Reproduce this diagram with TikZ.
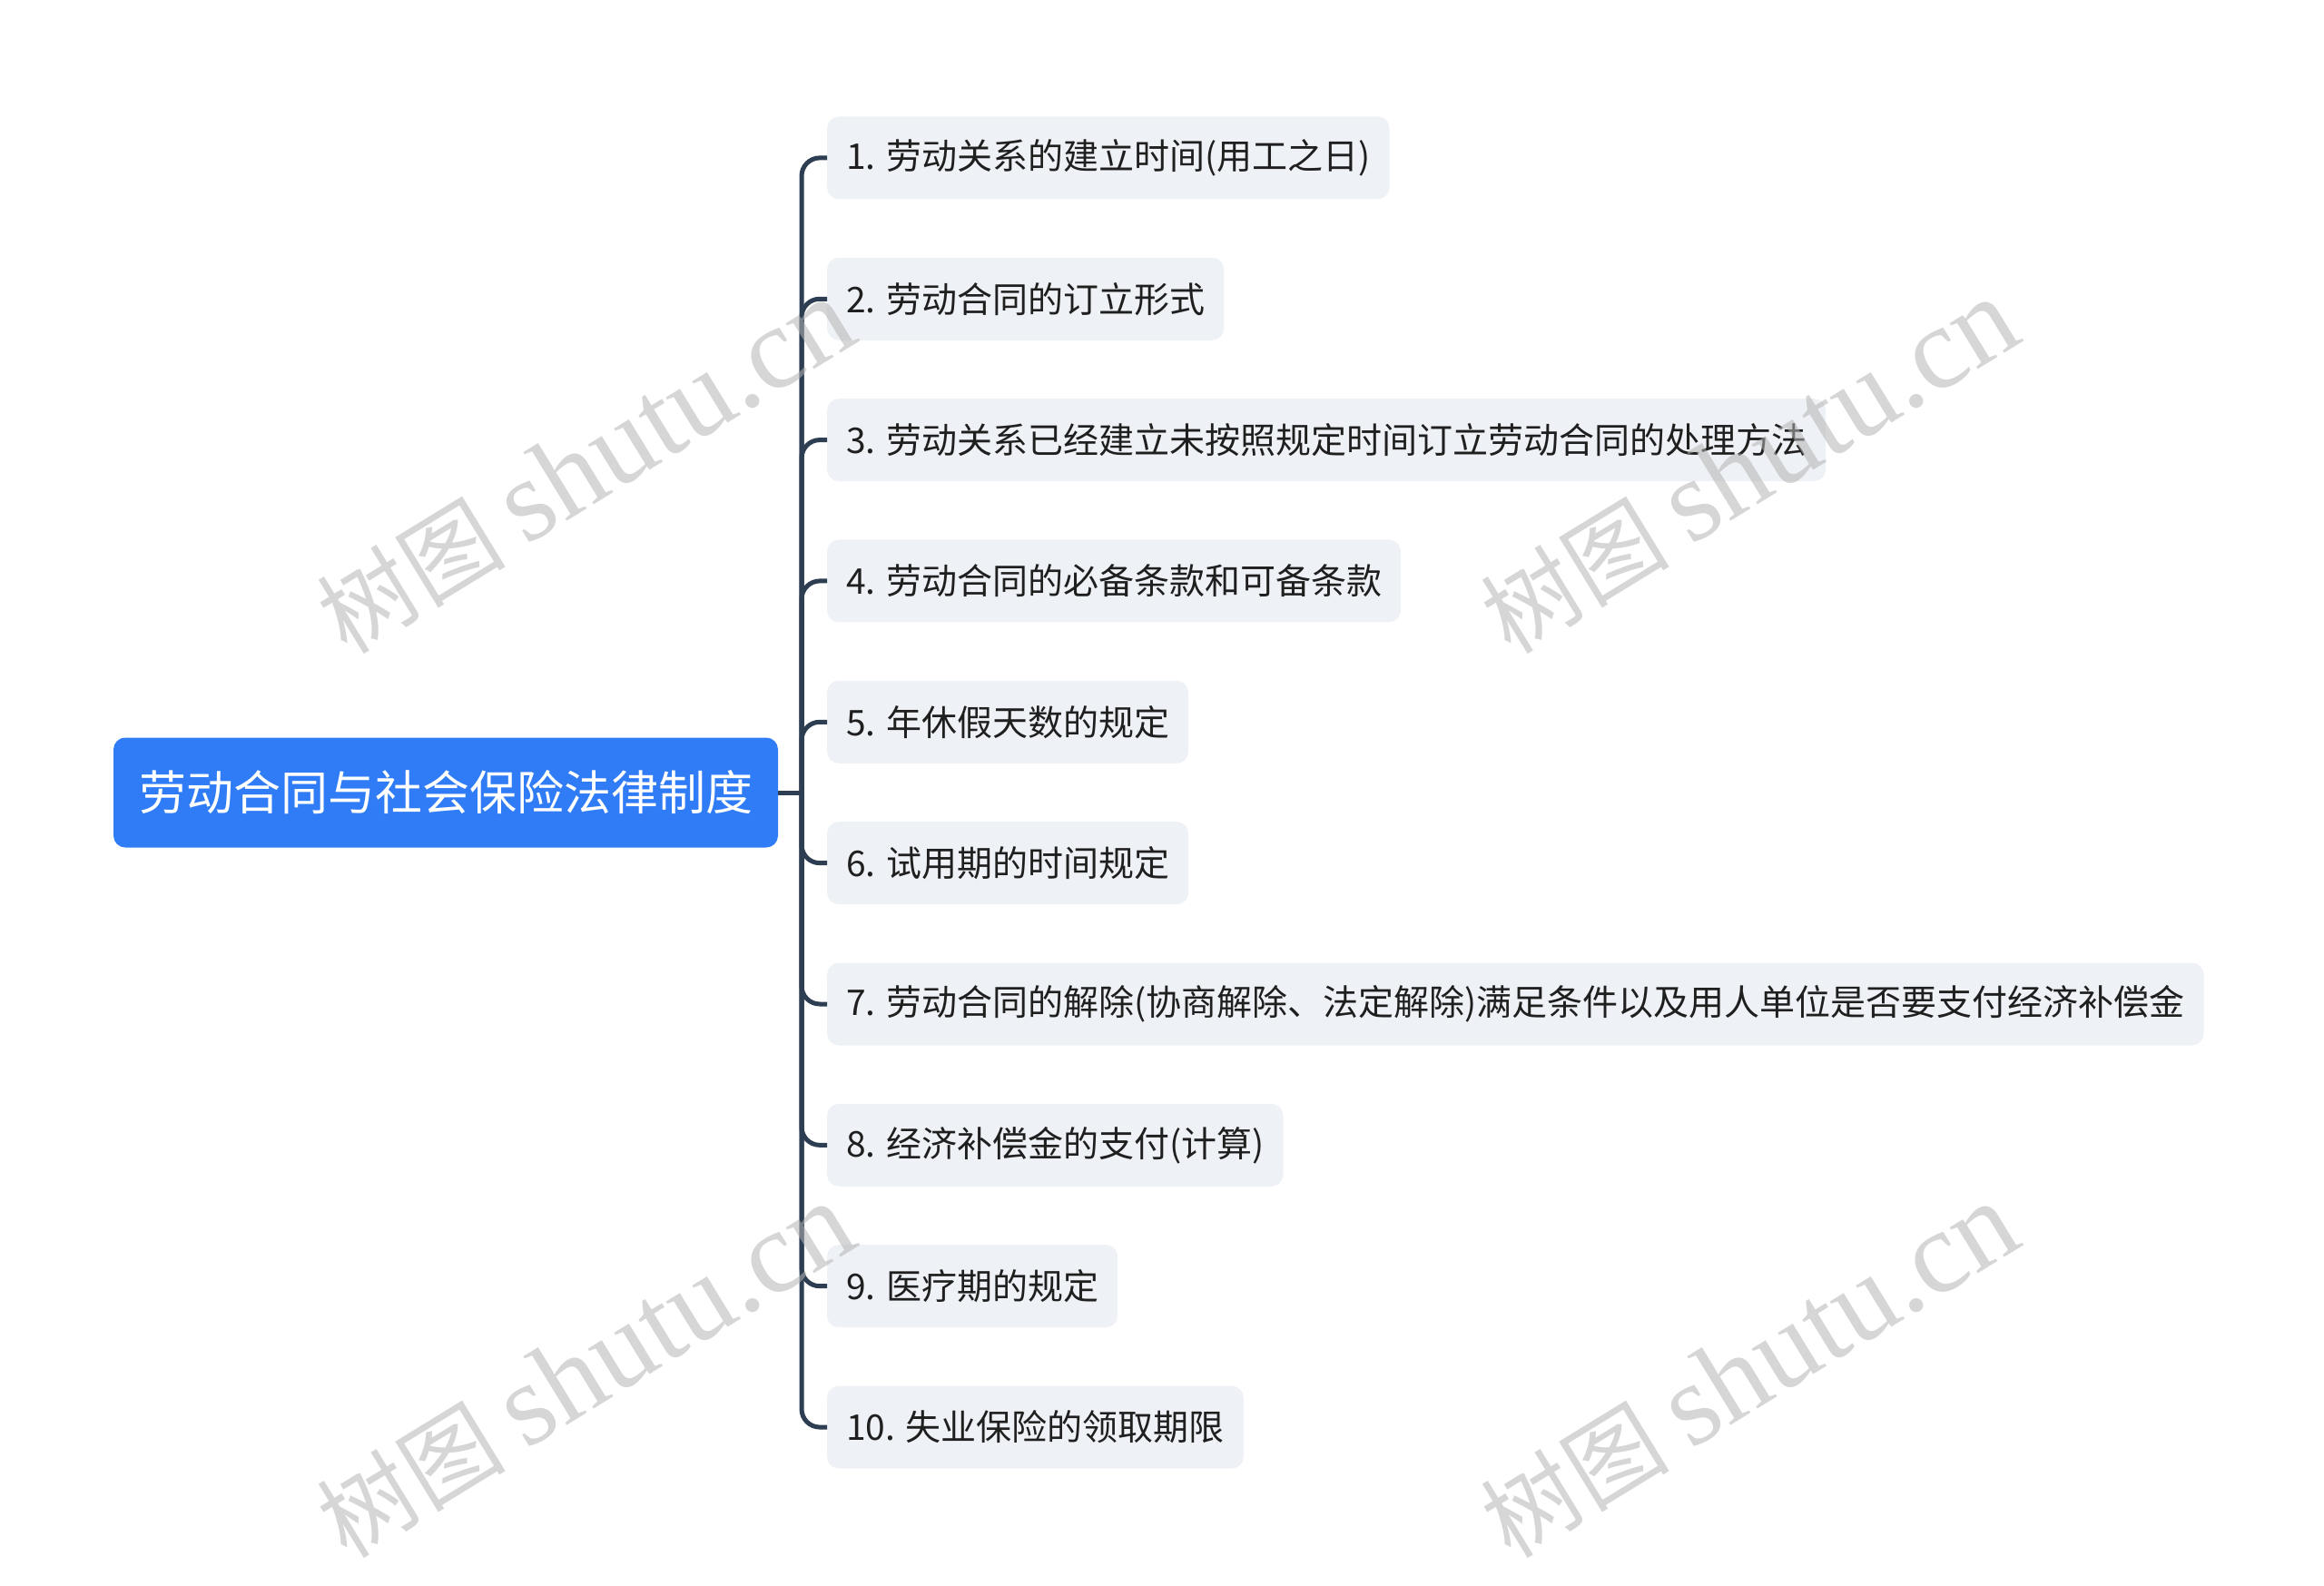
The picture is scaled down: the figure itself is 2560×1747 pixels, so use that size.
\documentclass[tikz,border=0pt]{standalone}
\usepackage{fontspec}
\setmainfont{Noto Sans CJK SC}
\newfontfamily\wmfont{Liberation Serif}

\definecolor{rootblue}{HTML}{2F7CF6}
\definecolor{leafgray}{HTML}{EEF1F5}
\definecolor{linkslate}{HTML}{2E3E52}
\definecolor{textdark}{HTML}{1F1F1F}
\definecolor{markgray}{HTML}{B4B4B4}

\tikzset{
  rootbox/.style={fill=rootblue, text=white, rounded corners=13pt, inner xsep=28pt,
    minimum height=121pt, outer sep=0pt, anchor=east, font=\fontsize{52}{60}\selectfont},
  leafbox/.style={fill=leafgray, text=textdark, rounded corners=13pt, inner xsep=21pt,
    minimum height=91pt, outer sep=0pt, anchor=west, font=\fontsize{39}{46}\selectfont},
  link/.style={draw=linkslate, line width=5pt, rounded corners=20pt},
  watermark/.style={text=markgray, text opacity=0.55, rotate=31.5,
    font=\fontsize{104}{104}\selectfont}
}

\begin{document}
\begin{tikzpicture}[x=1pt, y=-1pt]
    \useasboundingbox (0,0) rectangle (2560,1747);

    % Root topic
    \node[rootbox] (root) at (857,873) {劳动合同与社会保险法律制度};

    % Leaf topics
    \foreach \i/\txt in {1/{1. 劳动关系的建立时间(用工之日)},
                         2/{2. 劳动合同的订立形式},
                         3/{3. 劳动关系已经建立未按照规定时间订立劳动合同的处理方法},
                         4/{4. 劳动合同的必备条款和可备条款},
                         5/{5. 年休假天数的规定},
                         6/{6. 试用期的时间规定},
                         7/{7. 劳动合同的解除(协商解除、法定解除)满足条件以及用人单位是否要支付经济补偿金},
                         8/{8. 经济补偿金的支付(计算)},
                         9/{9. 医疗期的规定},
                         10/{10. 失业保险的领取期限}} {
        \node[leafbox] (leaf\i) at (911,{173.9+155.35*(\i-1)}) {\txt};
    }

    % Links
    \coordinate (hub) at (883,873);
    \draw[link] (root.east) -- (hub);
    \foreach \i in {1,...,10} {
        \draw[link] (hub) |- (leaf\i.west);
    }

    % Watermarks
    \foreach \wx/\wy [count=\k] in {645/514, 1927/514, 645/1510, 1927/1510} {
        \node[watermark] (mark\k) at (\wx,\wy)
            {树图 {\wmfont\fontsize{129}{129}\selectfont shutu.cn}};
    }
\end{tikzpicture}
\end{document}
